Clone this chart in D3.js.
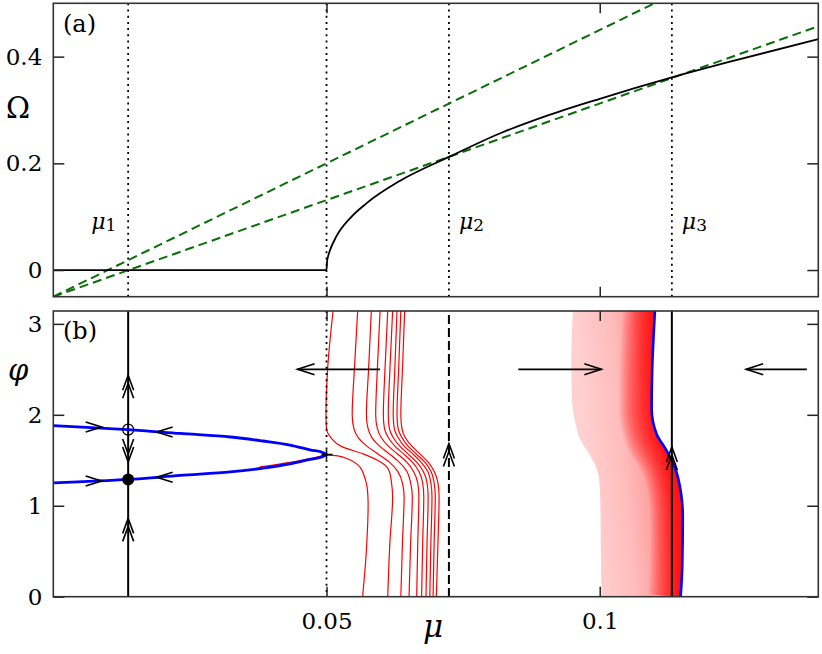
<!DOCTYPE html>
<html>
<head>
<meta charset="utf-8">
<script src="https://cdn.jsdelivr.net/npm/d3@7"></script>
<style>
  body { margin: 0; background: #fff; }
  svg { display: block; }
  text { font-family: "DejaVu Serif", serif; fill: #000; }
</style>
</head>
<body>
<div id="display"></div>
<script>
// ---- data ----
const muMarks = [0.0137, 0.0724, 0.1132]      // mu1, mu2, mu3
const markSubs = ["1", "2", "3"]
const muSN = 0.05                             // saddle-node

// panel (a): Omega(mu)
const omegaMu  = [0, 0.05, 0.0501, 0.0503, 0.0506, 0.0518, 0.0543, 0.0573, 0.0634, 0.0724, 0.0817, 0.09, 0.1, 0.1132, 0.1244, 0.14]
const omegaVal = [0, 0, 0.016, 0.026, 0.036, 0.063, 0.097, 0.125, 0.167, 0.212, 0.256, 0.288, 0.321, 0.361, 0.392, 0.433]
const greenA = [[0, -0.05], [0.11, 0.5]]
const greenB = [[0, -0.05], [0.14, 0.457]]

// panel (b): fixed points branches
const blueUpper = [[0, 1.881], [0.0137, 1.837], [0.0232, 1.795], [0.0324, 1.756], [0.0384, 1.712], [0.0433, 1.668], [0.047, 1.615], [0.049, 1.592], [0.05, 1.563]]
const blueLower = [[0, 1.251], [0.0137, 1.289], [0.0232, 1.333], [0.0324, 1.372], [0.0384, 1.414], [0.0433, 1.461], [0.047, 1.51], [0.049, 1.535], [0.05, 1.563]]

// trajectories (mu at each phi level)
const phiLevels = [3.1416, 2.5, 2.0, 1.85, 1.75, 1.65, 1.57, 1.48, 1.38, 1.25, 1.1, 0.6, 0]
const redCurves = [
  [0.0512, 0.0502, 0.0499, 0.0500, 0.0508, 0.0528, 0.0567, 0.0599, 0.0615, 0.0619, 0.0621, 0.0616, 0.0612],
  [0.0557, 0.0551, 0.0547, 0.0550, 0.0558, 0.0575, 0.0594, 0.0615, 0.0630, 0.0639, 0.0642, 0.0639, 0.0636],
  [0.0582, 0.0577, 0.0573, 0.0576, 0.0583, 0.0598, 0.0615, 0.0633, 0.0647, 0.0654, 0.0657, 0.0654, 0.0651],
  [0.0598, 0.0593, 0.0590, 0.0593, 0.0600, 0.0614, 0.0630, 0.0647, 0.0659, 0.0667, 0.0669, 0.0667, 0.0665],
  [0.0612, 0.0607, 0.0604, 0.0606, 0.0613, 0.0626, 0.0641, 0.0657, 0.0669, 0.0676, 0.0678, 0.0676, 0.0674],
  [0.0621, 0.0616, 0.0613, 0.0615, 0.0622, 0.0635, 0.0649, 0.0665, 0.0677, 0.0684, 0.0686, 0.0684, 0.0682],
  [0.0629, 0.0625, 0.0622, 0.0624, 0.0631, 0.0643, 0.0658, 0.0673, 0.0685, 0.0691, 0.0693, 0.0691, 0.0689],
  [0.0636, 0.0632, 0.0629, 0.0631, 0.0638, 0.0650, 0.0664, 0.0680, 0.0691, 0.0697, 0.0699, 0.0697, 0.0695],
  [0.0643, 0.0639, 0.0636, 0.0638, 0.0644, 0.0657, 0.0671, 0.0686, 0.0697, 0.0704, 0.0706, 0.0704, 0.0701]
]
const redFromSN = [[0.0378, 1.428], [0.0433, 1.478], [0.0475, 1.525], [0.05, 1.556], [0.0537, 1.52], [0.0561, 1.427], [0.0573, 1.245], [0.0576, 1.062], [0.0573, 0.513], [0.0566, 0]]

// dense bundle of trajectories near mu3: left edge and right (blue) edge
const bandLeft  = [[0.0951, 3.1416], [0.0948, 2.6], [0.0949, 2.2], [0.0956, 1.9], [0.0965, 1.72], [0.0984, 1.54], [0.0995, 1.4], [0.0999, 1.28], [0.1001, 1.06], [0.1002, 0.5], [0.1003, 0]]
const bandRight = [[0.1101, 3.1416], [0.1096, 2.5], [0.1095, 2.07], [0.1104, 1.79], [0.1122, 1.61], [0.1137, 1.43], [0.1149, 1.13], [0.1152, 0.88], [0.1151, 0.33], [0.1148, 0]]

// arrows: [mu, phi, direction]
const phaseArrows = [[0.0137, 2.434, 1], [0.0137, 1.482, -1], [0.0137, 0.861, 1], [0.0724, 1.684, 1], [0.1132, 1.647, 1]]
const branchArrows = [[0.00885, 1.866, 1], [0.01891, 1.811, -1], [0.00885, 1.273, 1], [0.01891, 1.314, -1]]
const driftArrows = [[0.0598, 0.0447, 2.5], [0.0851, 0.1003, 2.5], [0.1379, 0.1268, 2.5]]   // [from, to, phi]

// ---- layout ----
const left = 53.3, right = 818.3
const topA = 3.3, botA = 296.7, topB = 311, botB = 596.7

const x = d3.scaleLinear().domain([0, 0.14]).range([left, right])
const yA = d3.scaleLinear().domain([-0.05, 0.5]).range([botA, topA])
const yB = d3.scaleLinear().domain([0, Math.PI]).range([botB, topB])

const svg = d3.select('#display').append('svg')
    .attr('width', 822)
    .attr('height', 654)

const defs = svg.append('defs')
defs.append('clipPath').attr('id', 'clipA').append('rect')
    .attr('x', left).attr('y', topA).attr('width', right - left).attr('height', botA - topA)
defs.append('clipPath').attr('id', 'clipB').append('rect')
    .attr('x', left).attr('y', topB).attr('width', right - left).attr('height', botB - topB)

// ========== panel (a) ==========
const gA = svg.append('g').attr('clip-path', 'url(#clipA)')

const lineA = d3.line().x(d => x(d[0])).y(d => yA(d[1]))

muMarks.concat([muSN]).forEach(m => {
    gA.append('line')
        .attr('x1', x(m)).attr('x2', x(m))
        .attr('y1', topA).attr('y2', botA)
        .attr('stroke', '#000').attr('stroke-width', 1.8)
        .attr('stroke-dasharray', '2,4.2')
})

;[greenA, greenB].forEach(seg => {
    gA.append('path')
        .attr('d', lineA(seg))
        .attr('fill', 'none')
        .attr('stroke', '#0a6e0a')
        .attr('stroke-width', 2)
        .attr('stroke-dasharray', '9,5')
})

gA.append('path')
    .attr('d', lineA.curve(d3.curveMonotoneX)(omegaMu.map((m, i) => [m, omegaVal[i]])))
    .attr('fill', 'none')
    .attr('stroke', '#000')
    .attr('stroke-width', 1.8)

// mu labels
muMarks.forEach((m, i) => {
    const t = svg.append('text')
        .attr('x', x(m) + (i == 0 ? -37 : 10))
        .attr('y', 229)
    t.append('tspan').style('font-style', 'italic').style('font-size', '22px').text('μ')
    t.append('tspan').attr('dy', 2).style('font-size', '17px').text(markSubs[i])
})

svg.append('text').attr('x', 63).attr('y', 32).style('font-size', '24px').text('(a)')

// ========== panel (b) ==========
const gB = svg.append('g').attr('clip-path', 'url(#clipB)')
const lineB = d3.line().x(d => x(d[0])).y(d => yB(d[1]))

// bundle near mu3
const bandPath = lineB.curve(d3.curveMonotoneY)(bandLeft) + 'L' +
    lineB.curve(d3.curveMonotoneY)(bandRight.slice().reverse()).slice(1) + 'Z'
defs.append('clipPath').attr('id', 'clipBand').append('path').attr('d', bandPath)

const rT = x(bandRight[0][0]), lT = x(bandLeft[0][0])
const shift = x(bandRight[bandRight.length - 1][0]) - rT, hgt = botB - topB
const len = Math.hypot(hgt, shift)
const dist = (rT - lT) * hgt / len
const grad = defs.append('linearGradient').attr('id', 'bandGrad')
    .attr('gradientUnits', 'userSpaceOnUse')
    .attr('x1', lT).attr('y1', topB)
    .attr('x2', lT + dist * hgt / len).attr('y2', topB - dist * shift / len)
;[[0, '#ffd0d0'], [0.45, '#ffbcbc'], [0.7, '#ffa4a4'], [0.88, '#ff8080'], [1, '#ff5a5a']]
    .forEach(s => grad.append('stop').attr('offset', s[0]).attr('stop-color', s[1]))

gB.append('path').attr('d', bandPath).attr('fill', 'url(#bandGrad)')
const bandInner = gB.append('g').attr('clip-path', 'url(#clipBand)')
d3.range(64, 2, -4).forEach(w => {
    bandInner.append('path')
        .attr('d', lineB.curve(d3.curveMonotoneY)(bandRight))
        .attr('fill', 'none').attr('stroke', '#ff0000')
        .attr('stroke-opacity', 0.085).attr('stroke-width', w)
})

// trajectories
redCurves.forEach(c => {
    gB.append('path')
        .attr('d', lineB.curve(d3.curveMonotoneY)(c.map((m, i) => [m, phiLevels[i]])))
        .attr('fill', 'none').attr('stroke', '#ff0000').attr('stroke-width', 1.2)
})
gB.append('path')
    .attr('d', lineB.curve(d3.curveCatmullRom)(redFromSN))
    .attr('fill', 'none').attr('stroke', '#ff0000').attr('stroke-width', 1.2)

// vertical lines
gB.append('line').attr('x1', x(muSN)).attr('x2', x(muSN)).attr('y1', topB).attr('y2', botB)
    .attr('stroke', '#000').attr('stroke-width', 1.8).attr('stroke-dasharray', '2,4.2')
gB.append('line').attr('x1', x(muMarks[0])).attr('x2', x(muMarks[0])).attr('y1', topB).attr('y2', botB)
    .attr('stroke', '#000').attr('stroke-width', 2)
gB.append('line').attr('x1', x(muMarks[1])).attr('x2', x(muMarks[1])).attr('y1', topB + 4).attr('y2', botB)
    .attr('stroke', '#000').attr('stroke-width', 2).attr('stroke-dasharray', '9,4')

// blue branches
gB.append('path')
    .attr('d', lineB.curve(d3.curveCatmullRom)(blueUpper.concat(blueLower.slice(0, -1).reverse())))
    .attr('fill', 'none').attr('stroke', '#0000ff').attr('stroke-width', 2.8)
gB.append('path')
    .attr('d', lineB.curve(d3.curveMonotoneY)(bandRight))
    .attr('fill', 'none').attr('stroke', '#0000ff').attr('stroke-width', 2.6)

gB.append('line').attr('x1', x(muMarks[2])).attr('x2', x(muMarks[2])).attr('y1', topB).attr('y2', botB)
    .attr('stroke', '#000').attr('stroke-width', 2)

// cross at saddle-node
const snY = yB(blueUpper[blueUpper.length - 1][1])
gB.append('path')
    .attr('d', `M${x(muSN) - 5},${snY}H${x(muSN) + 6}M${x(muSN)},${snY - 5}V${snY + 5}`)
    .attr('stroke', '#000').attr('stroke-width', 1.5)

// arrows
function chevron(g, px, py, ux, uy, L = 15, w = 5.5) {
    const nx = -uy, ny = ux
    const p = d3.path()
    p.moveTo(px - ux * L + nx * w, py - uy * L + ny * w)
    p.lineTo(px, py)
    p.lineTo(px - ux * L - nx * w, py - uy * L - ny * w)
    g.append('path').attr('d', p.toString())
        .attr('fill', 'none').attr('stroke', '#000').attr('stroke-width', 1.6)
}

phaseArrows.forEach(a => {
    const px = x(a[0]), py = yB(a[1]), uy = -a[2]
    chevron(svg, px, py, 0, uy)
    chevron(svg, px, py - uy * 8, 0, uy)
})
branchArrows.forEach(a => chevron(svg, x(a[0]), yB(a[1]), a[2], 0, 16, 5))
driftArrows.forEach(a => {
    const y0 = yB(a[2])
    svg.append('line').attr('x1', x(a[0])).attr('x2', x(a[1])).attr('y1', y0).attr('y2', y0)
        .attr('stroke', '#000').attr('stroke-width', 1.6)
    chevron(svg, x(a[1]), y0, Math.sign(a[1] - a[0]), 0, 17, 5.5)
})

// fixed points on mu1
svg.append('circle')
    .attr('cx', x(muMarks[0])).attr('cy', yB(1.837)).attr('r', 5.5)
    .attr('fill', 'none').attr('stroke', '#000').attr('stroke-width', 1.2)
svg.append('circle')
    .attr('cx', x(muMarks[0])).attr('cy', yB(1.289)).attr('r', 6)
    .attr('fill', '#000')

svg.append('text').attr('x', 63).attr('y', 339).style('font-size', '24px').text('(b)')

// ========== frames, ticks, labels ==========
function styleAxis(g) {
    g.select('.domain').remove()
    g.attr('font-family', null).attr('font-size', null)
    g.selectAll('line').attr('stroke', '#222').attr('stroke-width', 1.5)
    g.selectAll('text').style('font-size', '23px')
}

;[[topA, botA, yA, [0, 0.2, 0.4]], [topB, botB, yB, [0, 1, 2, 3]]].forEach(p => {
    const [t, b, ys, vals] = p
    svg.append('g').attr('transform', `translate(${left},0)`)
        .call(d3.axisLeft(ys).tickValues(vals).tickSize(-11).tickPadding(11).tickFormat(d => String(d)))
        .call(styleAxis)
    svg.append('g').attr('transform', `translate(${right},0)`)
        .call(d3.axisRight(ys).tickValues(vals).tickSize(-11).tickFormat(''))
        .call(styleAxis)
    svg.append('g').attr('transform', `translate(0,${t})`)
        .call(d3.axisTop(x).tickValues([0.05, 0.1]).tickSize(-10).tickFormat(''))
        .call(styleAxis)
    svg.append('g').attr('transform', `translate(0,${b})`)
        .call(d3.axisBottom(x).tickValues([0.05, 0.1]).tickSize(-10).tickPadding(15.5)
            .tickFormat(b == botB ? (d => String(d)) : ''))
        .call(styleAxis)
    svg.append('rect')
        .attr('x', left).attr('y', t).attr('width', right - left).attr('height', b - t)
        .attr('fill', 'none').attr('stroke', '#333').attr('stroke-width', 1.6)
})

// lower the "0" of the phi axis a bit as in the original
svg.selectAll('g.tick text').filter(function () {
    const tr = this.parentNode.getAttribute('transform')
    return this.textContent === '0' && tr && tr.indexOf(',' + botB) > 0
}).attr('dy', '0.6em')

svg.append('text').attr('x', 6).attr('y', 118).style('font-size', '29px').text('Ω')
svg.append('text').attr('x', 8).attr('y', 380).style('font-size', '29px').style('font-style', 'italic').text('φ')
svg.append('text').attr('x', 433).attr('y', 637).attr('text-anchor', 'middle')
    .style('font-size', '31px').style('font-style', 'italic').text('μ')
</script>
</body>
</html>
